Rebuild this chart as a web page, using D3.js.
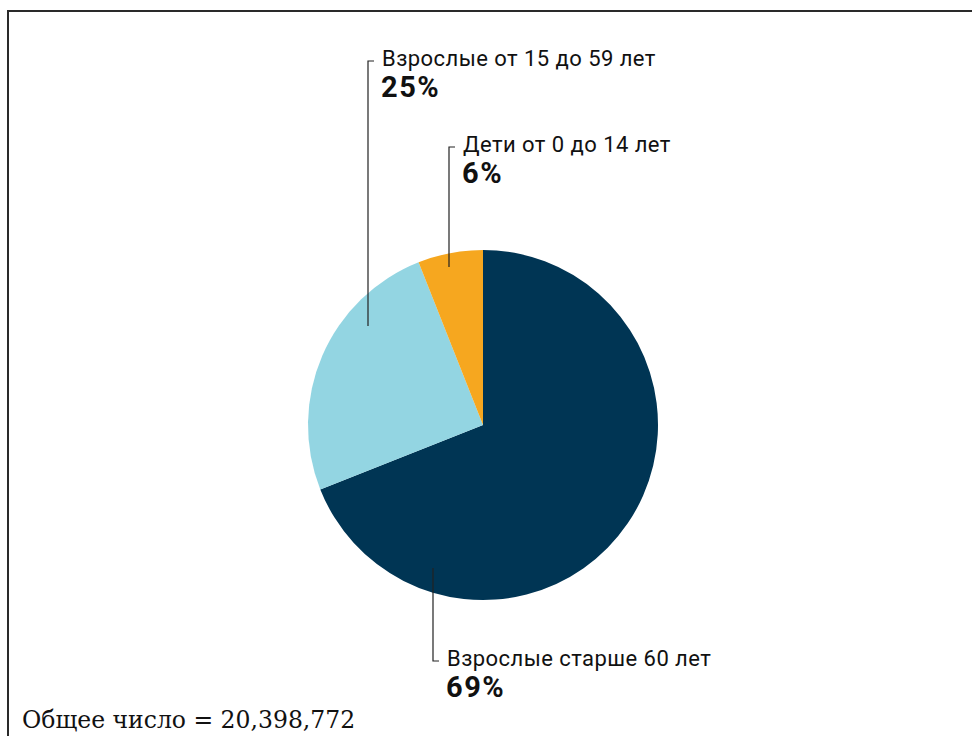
<!DOCTYPE html>
<html>
<head>
<meta charset="utf-8">
<script src="https://cdn.jsdelivr.net/npm/d3@7"></script>
<style>
  html, body { margin: 0; padding: 0; background: #fff; }
  svg { display: block; }
</style>
</head>
<body>
<svg id="chart" width="972" height="736"></svg>
<script>
// ---- data ----
const categories = ["Взрослые старше 60 лет", "Взрослые от 15 до 59 лет", "Дети от 0 до 14 лет"];
const values = [69, 25, 6];
const valueLabels = ["69%", "25%", "6%"];
const totalLabel = "Общее число = 20,398,772";

// ---- styles / layout ----
const colors = ["#003554", "#93d5e2", "#f6a71f"];
const W = 972, H = 736;
const cx = 483, cy = 425, R = 175;
// label layout: x of leader line, y of category text baseline, leader end y (inside slice)
const layout = [
  { lx: 433, ty: 666, endY: 568 },
  { lx: 368, ty: 66,  endY: 326 },
  { lx: 449, ty: 152, endY: 267 }
];

const svg = d3.select("#chart");

// frame
svg.append("path")
  .attr("d", `M8,${H} L8,11 L${W},11`)
  .attr("fill", "none")
  .attr("stroke", "#2a2a2a")
  .attr("stroke-width", 2);

const pie = d3.pie().sort(null).value(d => d)
  .startAngle(0).endAngle(2 * Math.PI);
const arc = d3.arc().innerRadius(0).outerRadius(R);

const g = svg.append("g").attr("transform", `translate(${cx},${cy})`);
g.selectAll("path.slice")
  .data(pie(values))
  .join("path")
  .attr("class", "slice")
  .attr("d", arc)
  .attr("fill", (d, i) => colors[i]);

// leaders and labels
categories.forEach((cat, i) => {
  const L = layout[i];
  const tickY = L.ty - 5;
  svg.append("path")
    .attr("d", `M${L.lx},${L.endY} L${L.lx},${tickY} L${L.lx + 6},${tickY}`)
    .attr("fill", "none")
    .attr("stroke", "#222")
    .attr("stroke-width", 1.2);
  svg.append("text")
    .attr("x", L.lx + 14)
    .attr("y", L.ty)
    .attr("font-family", "Roboto, 'DejaVu Sans', sans-serif")
    .attr("font-size", 22)
    .attr("letter-spacing", 0.45)
    .attr("fill", "#111")
    .text(cat);
  svg.append("text")
    .attr("x", L.lx + 13)
    .attr("y", L.ty + 31)
    .attr("font-family", "Roboto, 'DejaVu Sans', sans-serif")
    .attr("font-weight", "bold")
    .attr("font-size", 29)
    .attr("letter-spacing", 1.5)
    .attr("fill", "#111")
    .text(valueLabels[i]);
});

svg.append("text")
  .attr("x", 22)
  .attr("y", 728)
  .attr("font-family", "'DejaVu Serif', 'Liberation Serif', serif")
  .attr("font-size", 23.5)
  .attr("fill", "#111")
  .text(totalLabel);
</script>
</body>
</html>
